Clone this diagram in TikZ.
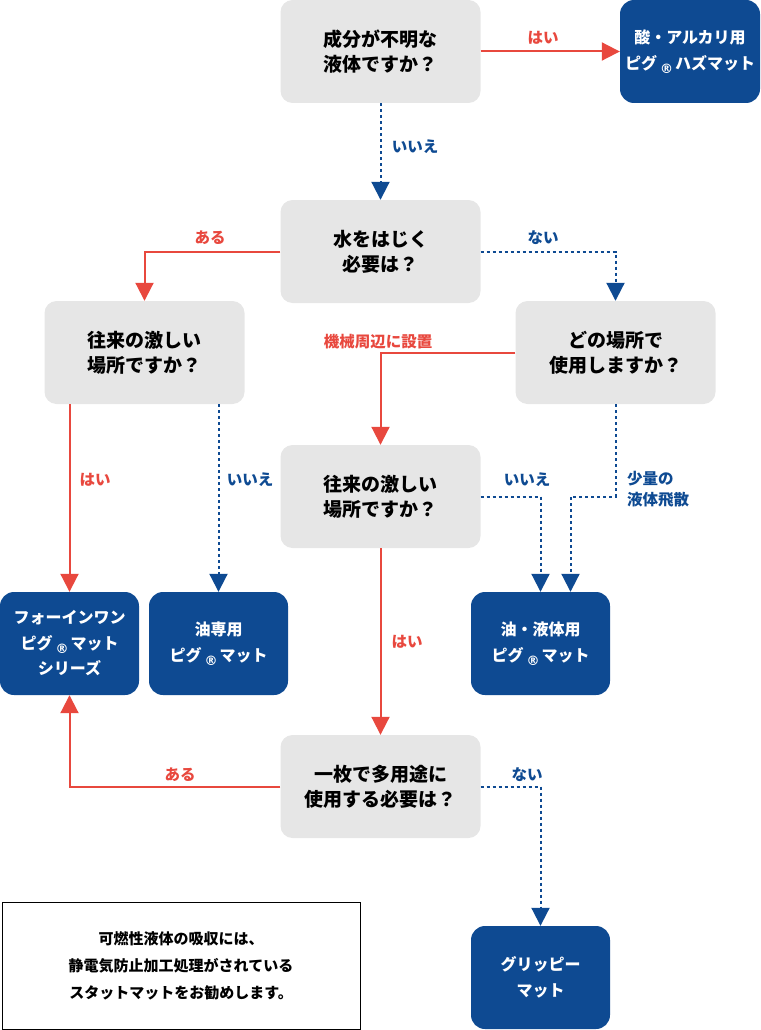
\documentclass[tikz,border=0pt]{standalone}
\usepackage{fontspec}
\setmainfont{Noto Sans CJK JP}
\newfontfamily\regfont{DejaVu Sans}
\usetikzlibrary{arrows.meta}
\definecolor{qgray}{RGB}{230,230,230}
\definecolor{rblue}{RGB}{14,74,146}
\definecolor{yred}{RGB}{232,72,62}
\newcommand{\regmark}{\hspace{3pt}{\regfont\bfseries\fontsize{13}{13}\selectfont\raisebox{-4pt}{®}}\hspace{2pt}}
\begin{document}
\begin{tikzpicture}[x=1pt,y=-1pt,
  qbox/.style={fill=qgray, rounded corners=12pt, minimum width=200pt, minimum height=103pt, inner sep=0pt,
    font=\bfseries\fontsize{19}{25}\selectfont, align=center, text=black},
  rbox/.style={fill=rblue, rounded corners=14pt, minimum width=139pt, minimum height=103pt, inner sep=0pt,
    font=\bfseries\fontsize{16}{25.5}\selectfont, align=center, text=white},
  yesline/.style={draw=yred, line width=2pt, -{Triangle[length=18pt,width=18pt]}, color=yred},
  noline/.style={draw=rblue, line width=2pt, dash pattern=on 3pt off 3pt, -{Triangle[length=18pt,width=18pt]}, color=rblue},
  ylab/.style={text=yred, font=\bfseries\fontsize{15.5}{20}\selectfont, inner sep=0pt},
  nlab/.style={text=rblue, font=\bfseries\fontsize{15.5}{21}\selectfont, inner sep=0pt},
]
\useasboundingbox (0,0) rectangle (760,1030);
% question boxes
\node[qbox] (A) at (380.5,51.5) {成分が不明な\\液体ですか？};
\node[qbox] (B) at (380.5,251.5) {水をはじく\\必要は？};
\node[qbox] (C) at (144.5,352.5) {往来の激しい\\場所ですか？};
\node[qbox] (D) at (615.5,352.5) {どの場所で\\使用しますか？};
\node[qbox] (E) at (380.5,496.5) {往来の激しい\\場所ですか？};
\node[qbox] (I) at (380.5,786.5) {一枚で多用途に\\使用する必要は？};
% result boxes
\node[rbox, minimum width=140pt] (Hz) at (690,51.5) {酸・アルカリ用\\ピグ\regmark ハズマット};
\node[rbox] (F) at (69.5,643.5) {フォーインワン\\ピグ\regmark マット\\シリーズ};
\node[rbox] (G) at (218.5,643.5) {油専用\\ピグ\regmark マット};
\node[rbox] (H) at (540.5,643.5) {油・液体用\\ピグ\regmark マット};
\node[rbox] (J) at (540.5,977.5) {グリッピー\\マット};
% note
\node[draw=black, line width=1pt, minimum width=358pt, minimum height=127pt, inner sep=0pt, align=center,
  font=\bfseries\fontsize{15}{27}\selectfont] (N) at (181,965.5)
  {可燃性液体の吸収には、\\静電気防止加工処理がされている\\スタットマットをお勧めします。};
% connectors
\draw[yesline] (A.east) -- (Hz.west);
\draw[noline] (A.south) -- (B.north);
\draw[yesline] (B.west) -| (C.north);
\draw[noline] (B.east) -| (D.north);
\draw[yesline] (D.west) -| (E.north);
\draw[yesline] (F.north |- C.south) -- (F.north);
\draw[noline] (G.north |- C.south) -- (G.north);
\draw[noline] (E.east) -| (H.north);
\coordinate (Hr) at ([xshift=30pt]H.north);
\coordinate (Dk) at (D.south |- E.east);
\draw[noline] (D.south) -- (Dk) -| (Hr);
\draw[yesline] (E.south) -- (I.north);
\draw[yesline] (I.west) -| (F.south);
\draw[noline] (I.east) -| (J.north);
% labels
\node[ylab] (l1) at (543,38) {はい};
\node[nlab] (l2) at (415,147) {いいえ};
\node[ylab] (l3) at (210,238) {ある};
\node[nlab] (l4) at (543,238) {ない};
\node[ylab] (l5) at (378,342) {機械周辺に設置};
\node[ylab] (l6) at (95,480) {はい};
\node[nlab] (l7) at (250,480) {いいえ};
\node[nlab] (l8) at (527,480) {いいえ};
\node[nlab, anchor=west, align=left] (l9) at (627,489.5) {少量の\\液体飛散};
\node[ylab] (l10) at (407,642) {はい};
\node[ylab] (l11) at (180,775) {ある};
\node[nlab] (l12) at (527,775) {ない};
\end{tikzpicture}
\end{document}
